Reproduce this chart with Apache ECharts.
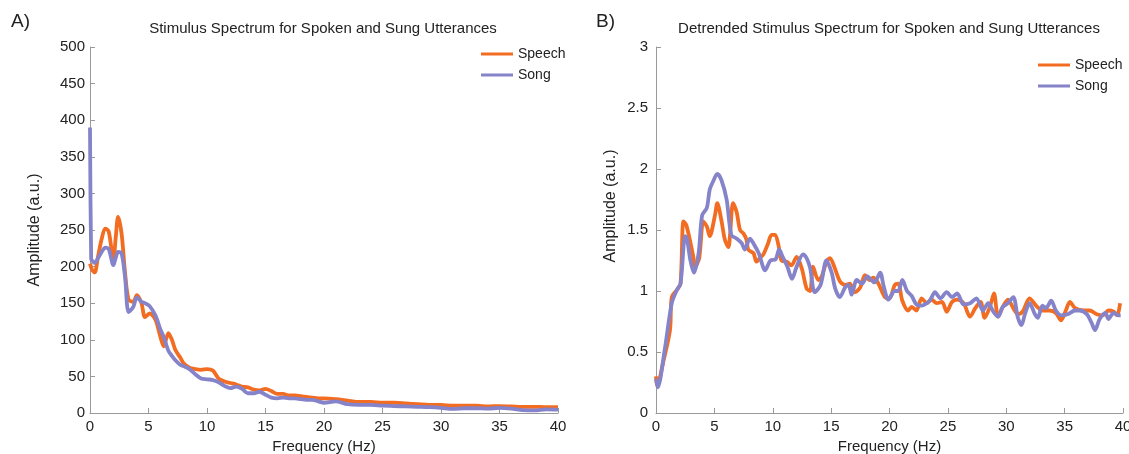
<!DOCTYPE html>
<html>
<head>
<meta charset="utf-8">
<script src="https://cdn.jsdelivr.net/npm/echarts@6/dist/echarts.min.js"></script>
<style>
html,body{margin:0;padding:0;background:#fff;}
#chart{width:1129px;height:454px;}
</style>
</head>
<body>
<div id="chart"></div>
<script>
// ---------- Panel A: raw spectrum ----------
var freqA = [0,0.1,0.2,0.4,0.7,1.0,1.3,1.6,2.0,2.2,2.4,2.7,3.0,3.3,3.7,4.0,4.4,4.7,5.1,5.6,6.0,6.3,6.7,7.0,7.3,7.7,8.0,8.5,9.0,9.5,10.0,10.5,11.0,11.5,12.0,12.5,13.0,13.5,14.0,14.5,15.0,15.5,16.0,16.5,17.0,17.5,18.0,18.5,19.0,19.5,20.0,21,22,23,24,25,26,27,28,29,30,31,32,33,34,35,36,37,38,39,40];
var speechA = [204,199,195,192,215,238,252,248,209,240,268,245,191,155,152,161,150,131,136,127,105,91,109,100,86,76,68,62,60,59,60,58,47,43,41,39,36,35,32,31,33,30,26,26,24,24,23,22,21,20,20,19,17,15,15,14,14,13,12,11,11,10,10,10,9,9.5,9,8.5,8.5,8,8];
var songA = [390,210,208,205,212,220,226,224,202,212,220,218,185,138,145,158,152,150,146,133,115,104,85,78,72,66,64,60,53,47,46,45,42,37,34,36,33,27,27,29,25,21,20,21,20,20,19,18,18,16,14,16,12,11,11,10,9.5,9,8.5,8,7,5.5,6.5,6.5,6,7,6,4,3.5,5,4.5];
var ticksA = {min:0, max:500, interval:50};

// ---------- Panel B: detrended spectrum ----------
var speechFreqB = [0,0.1,0.6,1.2,1.35,1.8,2.1,2.35,2.6,3.2,3.35,3.7,4.05,4.35,4.6,5.05,5.25,5.6,5.9,6.2,6.35,6.6,6.9,7.2,7.5,7.75,7.9,8.35,8.6,8.9,9.2,9.6,9.9,10.2,10.5,10.75,11.2,11.6,12.05,12.5,12.9,13.2,13.45,13.9,14.2,14.6,14.9,15.3,15.75,16.2,16.6,17.05,17.5,17.9,18.3,18.6,19.0,19.6,20.0,20.45,20.75,21.1,21.6,21.9,22.3,22.75,23.2,23.6,24.05,24.5,24.9,25.35,25.8,26.35,26.9,27.35,27.8,28.15,28.6,28.95,29.3,29.7,30.15,30.6,31.0,31.4,32.0,32.55,33.1,33.7,34.25,34.7,35.1,35.45,35.9,36.6,37.15,37.75,38.3,38.75,39.2,39.5,39.75];
var speechB = [0.30,0.22,0.41,0.68,0.95,1.01,1.06,1.57,1.54,1.28,1.20,1.27,1.57,1.53,1.45,1.62,1.72,1.58,1.42,1.36,1.47,1.72,1.65,1.50,1.47,1.42,1.34,1.31,1.24,1.27,1.30,1.39,1.46,1.46,1.37,1.25,1.24,1.21,1.28,1.18,1.02,1.00,1.20,1.09,1.12,1.24,1.27,1.19,1.08,1.05,1.06,0.99,1.03,1.13,1.09,1.11,1.07,0.95,0.94,1.05,1.06,0.92,0.84,0.87,0.84,0.94,0.90,0.93,0.90,0.91,0.83,0.91,0.93,0.90,0.79,0.86,0.91,0.78,0.87,0.98,0.79,0.87,0.93,0.86,0.81,0.83,0.94,0.88,0.84,0.84,0.82,0.76,0.84,0.91,0.86,0.84,0.84,0.81,0.80,0.84,0.83,0.80,0.90];
var songFreqB = [0,0.15,0.75,1.35,1.8,2.1,2.5,2.65,2.95,3.25,3.65,3.95,4.35,4.6,4.9,5.25,5.6,6.05,6.45,6.9,7.35,7.6,8.05,8.35,8.8,9.35,9.8,10.25,10.55,10.85,11.25,11.65,12.05,12.6,12.9,13.2,13.6,14.1,14.6,15.05,15.35,15.75,16.2,16.5,16.75,17.2,17.65,18.1,18.7,19.2,19.5,19.9,20.45,20.75,21.1,21.5,21.9,22.3,22.75,23.2,23.5,23.9,24.35,24.9,25.35,25.8,26.35,26.9,27.45,28.0,28.45,28.9,29.3,29.7,30.15,30.6,31.0,31.3,31.6,32.0,32.45,32.7,33.1,33.4,33.85,34.25,34.7,35.25,35.9,36.3,36.9,37.3,37.6,38.0,38.5,38.75,39.2,39.6,39.8];
var songB = [0.28,0.21,0.52,0.90,1.01,1.06,1.45,1.43,1.25,1.15,1.31,1.62,1.68,1.83,1.90,1.96,1.91,1.75,1.46,1.43,1.39,1.34,1.43,1.39,1.31,1.17,1.25,1.26,1.34,1.28,1.20,1.10,1.20,1.30,1.27,1.19,0.99,1.05,1.25,1.15,1.02,0.95,1.03,1.05,0.97,1.09,1.06,1.12,1.07,1.15,1.04,0.93,1.00,1.00,1.09,1.00,0.96,0.89,0.88,0.90,0.93,0.99,0.94,0.99,0.95,0.98,0.89,0.90,0.94,0.84,0.90,0.83,0.79,0.87,0.90,0.95,0.78,0.72,0.81,0.90,0.81,0.78,0.88,0.86,0.92,0.84,0.80,0.81,0.84,0.84,0.81,0.74,0.68,0.77,0.82,0.77,0.82,0.80,0.80];
var ticksB = {min:0, max:3, interval:0.5};
var ticksX = {min:0, max:40, interval:5};

var seriesNames = ['Speech','Song'];
var colors = ['#F26C22','#8583C9'];
var FONT = '"Liberation Sans", Arial, Helvetica, sans-serif';
var TXT = '#222';

function pairs(xs, ys){ return xs.map(function(x,i){ return [x, ys[i]]; }); }

function xAxisCfg(idx){
  return {
    type:'value', gridIndex:idx, min:ticksX.min, max:ticksX.max, interval:ticksX.interval,
    name:'Frequency (Hz)', nameLocation:'middle', nameGap:26,
    nameTextStyle:{color:TXT, fontSize:15, fontFamily:FONT},
    axisLine:{show:true, lineStyle:{color:'#9a9a9a', width:1}},
    axisTick:{show:true, inside:true, length:5, lineStyle:{color:'#9a9a9a'}},
    axisLabel:{color:TXT, fontSize:15, fontFamily:FONT, margin:6},
    splitLine:{show:false}
  };
}
function yAxisCfg(idx, t, name, margin){
  return {
    type:'value', gridIndex:idx, min:t.min, max:t.max, interval:t.interval,
    name:name, nameLocation:'middle', nameGap:47, nameRotate:90,
    nameTextStyle:{color:TXT, fontSize:16, fontFamily:FONT},
    axisLine:{show:true, lineStyle:{color:'#9a9a9a', width:1}},
    axisTick:{show:true, inside:true, length:5, lineStyle:{color:'#9a9a9a'}},
    axisLabel:{color:TXT, fontSize:15, fontFamily:FONT, margin:margin},
    splitLine:{show:false}
  };
}
function lineSeries(name, color, xi, data){
  return {
    name:name, type:'line', xAxisIndex:xi, yAxisIndex:xi, data:data,
    showSymbol:false, symbol:'none', smooth:0.3,
    lineStyle:{color:color, width:3.8}, itemStyle:{color:color},
    emphasis:{disabled:true}, animation:false, z:xi===0 && name==='Song' ? 3 : 2
  };
}
function legendCfg(left, top){
  return {
    data:seriesNames, orient:'vertical', left:left, top:top, padding:0,
    icon:'rect', itemWidth:32, itemHeight:3, itemGap:5,
    textStyle:{color:TXT, fontSize:14, fontFamily:FONT, lineHeight:16},
    selectedMode:false
  };
}
function titleCfg(text, left, top, size, center){
  var t = {text:text, left:left, top:top, padding:0,
    textStyle:{color:TXT, fontSize:size, fontWeight:'normal', fontFamily:FONT}};
  if (center) t.textAlign = 'center';
  return t;
}

var chart = echarts.init(document.getElementById('chart'), null, {renderer:'canvas'});
chart.setOption({
  backgroundColor:'#fff',
  animation:false,
  color:colors,
  title:[
    titleCfg('A)', 11, 12, 19, false),
    titleCfg('B)', 596, 12, 19, false),
    titleCfg('Stimulus Spectrum for Spoken and Sung Utterances', 323, 21, 15, true),
    titleCfg('Detrended Stimulus Spectrum for Spoken and Sung Utterances', 889, 21, 15, true)
  ],
  legend:[legendCfg(481, 46), legendCfg(1038, 57)],
  grid:[
    {left:90, top:47, width:468, height:366, containLabel:false, outerBoundsMode:'none'},
    {left:656, top:47, width:467, height:366, containLabel:false, outerBoundsMode:'none'}
  ],
  xAxis:[xAxisCfg(0), xAxisCfg(1)],
  yAxis:[yAxisCfg(0, ticksA, 'Amplitude (a.u.)', 5), yAxisCfg(1, ticksB, '', 8)],
  graphic:[
    {type:'text', x:611, y:206, rotation:Math.PI/2,
      style:{text:'Amplitude (a.u.)', fill:TXT, fontSize:16, fontFamily:FONT, align:'center', verticalAlign:'middle'}}
  ],
  series:[
    lineSeries('Speech', colors[0], 0, pairs(freqA, speechA)),
    lineSeries('Song', colors[1], 0, pairs(freqA, songA)),
    lineSeries('Speech', colors[0], 1, pairs(speechFreqB, speechB)),
    lineSeries('Song', colors[1], 1, pairs(songFreqB, songB))
  ]
});
</script>
</body>
</html>
